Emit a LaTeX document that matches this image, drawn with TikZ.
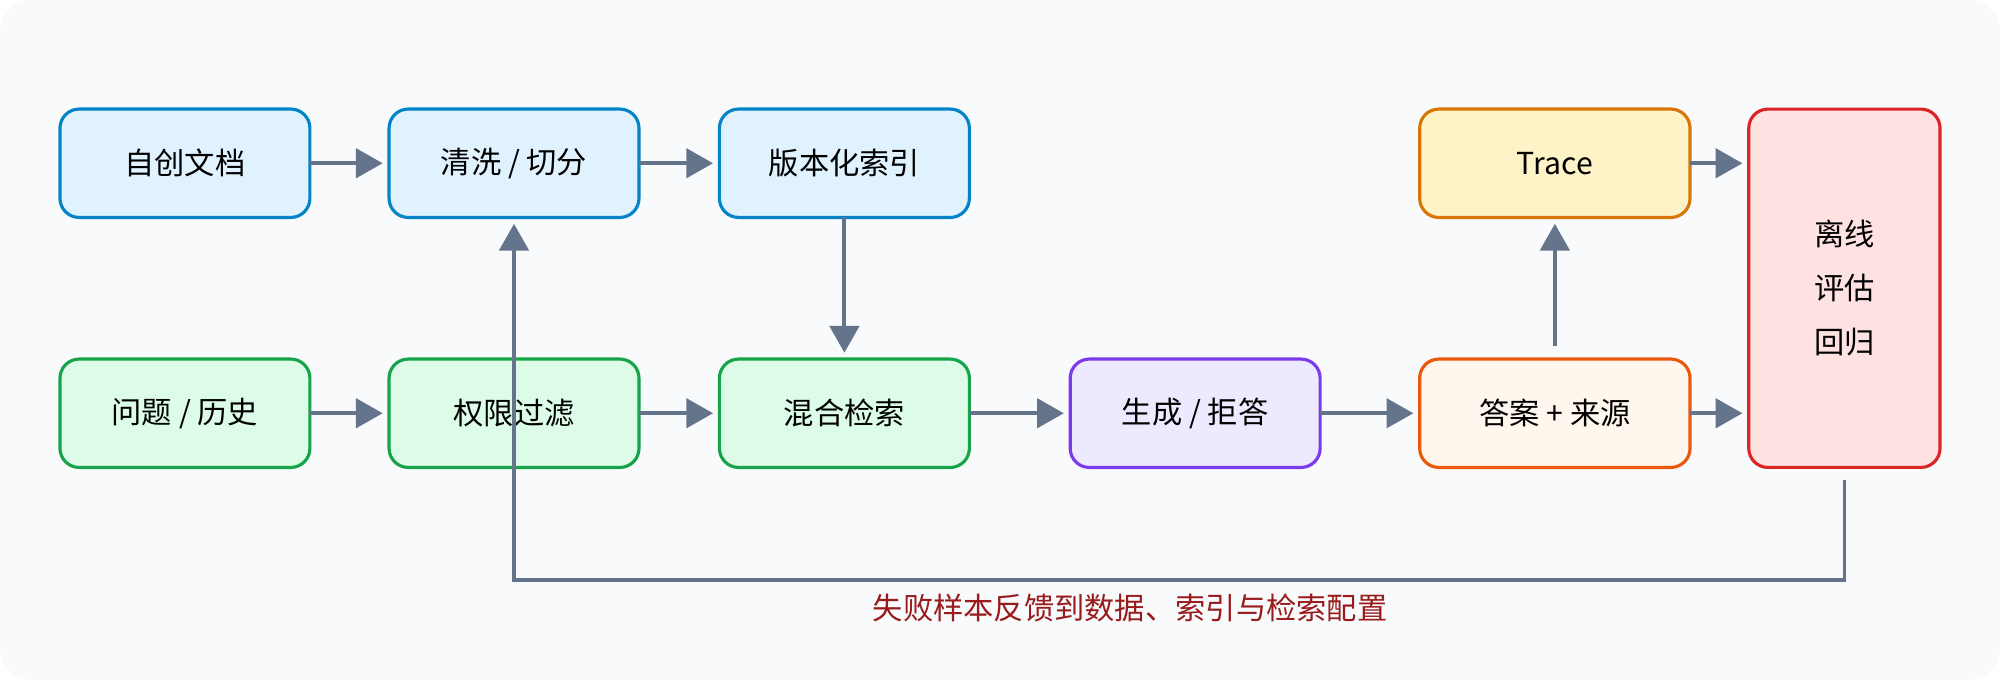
\documentclass[tikz,border=0pt]{standalone}
\usepackage{fontspec}
\setmainfont{Noto Sans CJK SC}
\usetikzlibrary{arrows.meta,positioning,backgrounds}

\definecolor{bgcol}{HTML}{F8FAFC}
\definecolor{arrcol}{HTML}{64748B}
\definecolor{bluefill}{HTML}{E0F2FE}
\definecolor{blueline}{HTML}{0284C7}
\definecolor{greenfill}{HTML}{DCFCE7}
\definecolor{greenline}{HTML}{16A34A}
\definecolor{purplefill}{HTML}{EDE9FE}
\definecolor{purpleline}{HTML}{7C3AED}
\definecolor{yellowfill}{HTML}{FEF3C7}
\definecolor{yellowline}{HTML}{D97706}
\definecolor{orangefill}{HTML}{FFF7ED}
\definecolor{orangeline}{HTML}{EA580C}
\definecolor{redfill}{HTML}{FEE2E2}
\definecolor{redline}{HTML}{DC2626}
\definecolor{notecol}{HTML}{991B1B}

\begin{document}
\begin{tikzpicture}[
    x=0.02cm, y=0.02cm,
    font=\fontsize{13.5}{17}\selectfont,
    box/.style={rectangle, rounded corners=0.3cm, line width=1.4pt, minimum width=3.92cm, minimum height=1.7cm, align=center, outer sep=0pt},
    source/.style={box, draw=blueline, fill=bluefill},
    query/.style={box, draw=greenline, fill=greenfill},
    gen/.style={box, draw=purpleline, fill=purplefill},
    trace/.style={box, draw=yellowline, fill=yellowfill, minimum width=4.24cm},
    answer/.style={box, draw=orangeline, fill=orangefill, minimum width=4.24cm},
    evalbox/.style={box, draw=redline, fill=redfill, minimum width=3cm, minimum height=5.62cm},
    arrow/.style={-{Triangle[length=0.42cm, width=0.46cm]}, line width=1.7pt, draw=arrcol, shorten >=0.1cm}
]
\useasboundingbox (0,0) rectangle (1568,533);
\fill[bgcol, rounded corners=0.5cm] (0,0) rectangle (1568,533);

% upper row
\node[source] (docs) at (145,405) {自创文档};
\node[source] (clean) at (403,405) {清洗 / 切分};
\node[source] (index) at (662,405) {版本化索引};
\node[trace] (trace) at (1219,405) {Trace};

% lower row
\node[query] (question) at (145,209) {问题 / 历史};
\node[query] (acl) at (403,209) {权限过滤};
\node[query] (hybrid) at (662,209) {混合检索};
\node[gen] (generate) at (937,209) {生成 / 拒答};
\node[answer] (answer) at (1219,209) {答案 + 来源};
\node[evalbox] (offline) at (1446,307) {离线\\[0.25cm]评估\\[0.25cm]回归};

\draw[arrow] (docs) -- (clean);
\draw[arrow] (clean) -- (index);
\draw[arrow] (index) -- (hybrid);
\draw[arrow] (question) -- (acl);
\draw[arrow] (acl) -- (hybrid);
\draw[arrow] (hybrid) -- (generate);
\draw[arrow] (generate) -- (answer);
\draw[arrow, shorten <=0.2cm] (answer.north) -- (trace.south);
\draw[arrow] (trace.east) -- (trace.east -| offline.west);
\draw[arrow] (answer.east) -- (answer.east -| offline.west);

% feedback loop
\coordinate (loop) at (1446,78);
\draw[arrow, shorten <=0.2cm] (offline.south) -- (loop) -- (loop -| clean.south) -- (clean.south);
\node[text=notecol] (note) at (886,56) {失败样本反馈到数据、索引与检索配置};
\end{tikzpicture}
\end{document}
